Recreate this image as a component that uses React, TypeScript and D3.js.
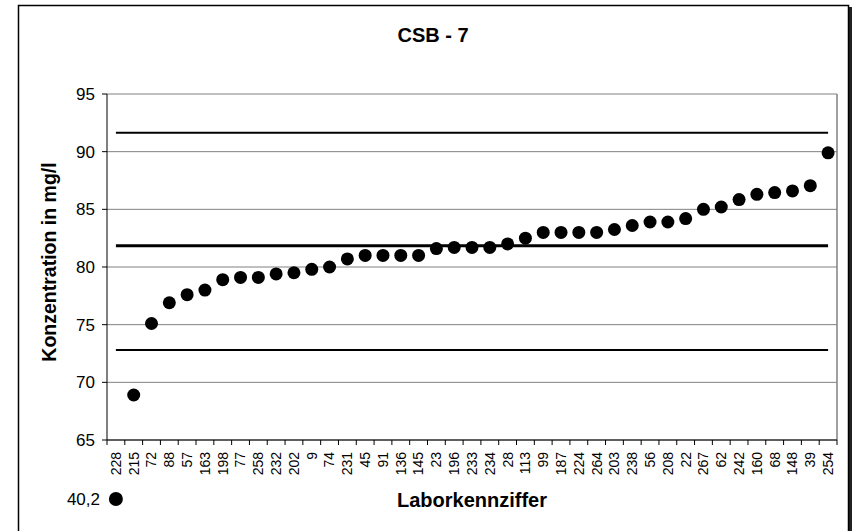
import React from "react";
import * as d3 from "d3";

const labs = ["228","215","72","88","57","163","198","77","258","232","202","9","74","231","45","91","136","145","23","196","233","234","28","113","99","187","224","264","203","238","56","208","22","267","62","242","160","68","148","39","254"];
const values = [40.2,68.9,75.1,76.9,77.6,78.0,78.9,79.1,79.1,79.4,79.5,79.8,80.0,80.7,81.0,81.0,81.0,81.0,81.6,81.7,81.7,81.7,82.0,82.5,83.0,83.0,83.0,83.0,83.25,83.6,83.9,83.9,84.2,85.0,85.2,85.85,86.3,86.45,86.6,87.05,89.9];
const yTicks = [65, 70, 75, 80, 85, 90, 95];
const refLower = 72.8;
const refMean = 81.85;
const refUpper = 91.65;
const title = "CSB - 7";
const xTitle = "Laborkennziffer";
const yTitle = "Konzentration in mg/l";

const W = 855, H = 531;
const left = 107, right = 837, top = 94, bottom = 440;
const font = "Arial, 'Liberation Sans', sans-serif";

export default function App() {
  const x = d3.scaleBand<string>().domain(labs).range([left, right]).padding(0);
  const y = d3.scaleLinear().domain([65, 95]).range([bottom, top]);
  const cx = (l: string) => (x(l) as number) + x.bandwidth() / 2;
  const first = labs[0], last = labs[labs.length - 1];
  const refs = [
    { v: refUpper, w: 2 },
    { v: refMean, w: 3 },
    { v: refLower, w: 2 },
  ];
  const boundaries = d3.range(labs.length + 1).map((i) => left + i * x.step());
  return (
    <svg width={W} height={H} style={{ position: "absolute", left: 0, top: 0, background: "#fff" }} fontFamily={font}>
      <rect x={0} y={0} width={W} height={H} fill="#fff" />
      {/* outer chart border with shadow */}
      <rect x={849} y={7} width={3} height={H} fill="#222" />
      <rect x={18.5} y={5.5} width={830} height={H} fill="#fff" stroke="#000" strokeWidth={1.5} />
      <text x={433} y={42} textAnchor="middle" fontSize={20} fontWeight="bold">{title}</text>
      {/* gridlines */}
      {yTicks.map((t) => (
        <line key={t} x1={left} x2={right} y1={y(t)} y2={y(t)} stroke="#808080" strokeWidth={1} />
      ))}
      <line x1={right} x2={right} y1={top} y2={bottom} stroke="#808080" strokeWidth={1.5} />
      {/* axes */}
      <line x1={left} x2={left} y1={top} y2={bottom} stroke="#000" strokeWidth={1} />
      <line x1={left} x2={right} y1={bottom} y2={bottom} stroke="#000" strokeWidth={1} />
      {yTicks.map((t) => (
        <g key={"yt" + t}>
          <line x1={left - 5} x2={left} y1={y(t)} y2={y(t)} stroke="#000" />
          <text x={95} y={y(t)} dy="0.35em" textAnchor="end" fontSize={17}>{t}</text>
        </g>
      ))}
      {boundaries.map((b, i) => (
        <line key={"xt" + i} x1={b} x2={b} y1={bottom} y2={bottom + 5} stroke="#000" />
      ))}
      {labs.map((l) => (
        <text key={"xl" + l} transform={`translate(${cx(l)},${bottom + 12}) rotate(-90)`} textAnchor="end" dy="0.35em" fontSize={14}>{l}</text>
      ))}
      {/* reference lines */}
      {refs.map((r) => (
        <line key={"r" + r.v} x1={cx(first)} x2={cx(last)} y1={y(r.v)} y2={y(r.v)} stroke="#000" strokeWidth={r.w} />
      ))}
      {/* points */}
      {labs.map((l, i) => {
        const v = values[i];
        if (v < 65) {
          return (
            <g key={"p" + l}>
              <circle cx={cx(l)} cy={bottom + 59} r={7} fill="#000" />
              <text x={100} y={bottom + 65} textAnchor="end" fontSize={17}>{String(v).replace(".", ",")}</text>
            </g>
          );
        }
        return <circle key={"p" + l} cx={cx(l)} cy={y(v)} r={6.5} fill="#000" />;
      })}
      <text x={(left + right) / 2} y={507} textAnchor="middle" fontSize={20} fontWeight="bold">{xTitle}</text>
      <text transform={`translate(56,${(top + bottom) / 2 - 5}) rotate(-90)`} textAnchor="middle" fontSize={19.5} fontWeight="bold">{yTitle}</text>
    </svg>
  );
}
